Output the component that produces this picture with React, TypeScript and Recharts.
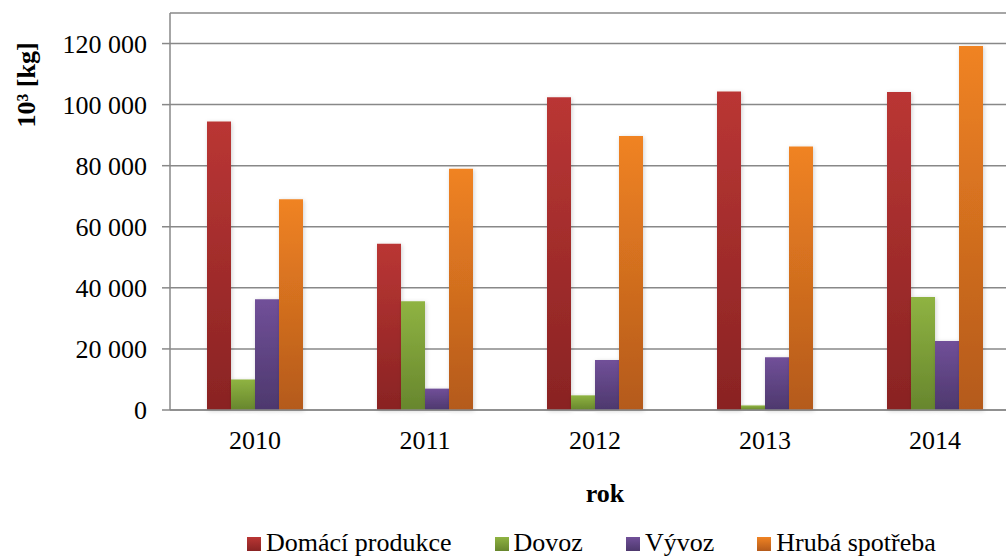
import React from "react";
import {
  BarChart, Bar, XAxis, YAxis, CartesianGrid, Label,
} from "recharts";

const years = ["2010", "2011", "2012", "2013", "2014"];
const domaciProdukce = [94500, 54400, 102400, 104300, 104100];
const dovoz = [10000, 35600, 4800, 1500, 37000];
const vyvoz = [36300, 7000, 16400, 17300, 22600];
const hrubaSpotreba = [69000, 79000, 89700, 86300, 119200];
const yTicks = [0, 20000, 40000, 60000, 80000, 100000, 120000];

const FONT = '"Liberation Serif", "Times New Roman", serif';

const series = [
  { key: "domaci", name: "Domácí produkce", top: "#ba3634", bottom: "#892323" },
  { key: "dovoz", name: "Dovoz", top: "#8fb342", bottom: "#67862d" },
  { key: "vyvoz", name: "Vývoz", top: "#715099", bottom: "#4d386d" },
  { key: "hruba", name: "Hrubá spotřeba", top: "#f08323", bottom: "#b45a1b" },
];

const data = years.map((year, i) => ({
  year,
  domaci: domaciProdukce[i],
  dovoz: dovoz[i],
  vyvoz: vyvoz[i],
  hruba: hrubaSpotreba[i],
}));

// thousands separated by a space: 120000 -> "120 000"
const fmt = (v: number) =>
  v >= 1000 ? `${Math.floor(v / 1000)} ${String(v % 1000).padStart(3, "0")}` : String(v);

function LegendBox() {
  return (
    <div
      style={{
        position: "absolute",
        left: 247,
        top: 528,
        display: "flex",
        alignItems: "flex-start",
        fontFamily: FONT,
        fontSize: 26,
        lineHeight: "30px",
        color: "#000",
        whiteSpace: "nowrap",
      }}
    >
      {series.map((s) => (
        <div key={s.key} style={{ display: "flex", alignItems: "flex-start", marginRight: 43 }}>
          <span
            style={{
              display: "inline-block",
              width: 14,
              height: 14,
              marginTop: 9,
              marginRight: 5,
              background: `linear-gradient(${s.top}, ${s.bottom})`,
            }}
          />
          <span>{s.name}</span>
        </div>
      ))}
    </div>
  );
}

export default function App() {
  return (
    <div
      style={{
        position: "absolute",
        left: 0,
        top: 0,
        width: 1006,
        height: 557,
        overflow: "hidden",
        background: "#fff",
      }}
    >
      <BarChart
        width={1020}
        height={557}
        data={data}
        margin={{ top: 13, right: 0, left: 0, bottom: 117 }}
        barGap={0}
        barSize={24}
        style={{ fontFamily: FONT }}
      >
        <defs>
          {series.map((s) => (
            <linearGradient key={s.key} id={`g-${s.key}`} x1="0" y1="0" x2="0" y2="1">
              <stop offset="0%" stopColor={s.top} />
              <stop offset="100%" stopColor={s.bottom} />
            </linearGradient>
          ))}
          <filter id="barShadow" x="-30%" y="-10%" width="160%" height="120%">
            <feDropShadow dx="1" dy="1" stdDeviation="2" floodColor="#000" floodOpacity="0.18" />
          </filter>
        </defs>
        <CartesianGrid vertical={false} stroke="#888" strokeWidth={1.5} />
        <XAxis
          dataKey="year"
          height={30}
          axisLine={{ stroke: "#888", strokeWidth: 1.5 }}
          tickLine={false}
          tickSize={8}
          tickMargin={13}
          tick={{ fontSize: 26, fill: "#000", fontFamily: FONT }}
        >
          <Label
            content={() => (
              <text x={605} y={502} textAnchor="middle" fontFamily={FONT} fontSize={26} fontWeight="bold" fill="#000">
                rok
              </text>
            )}
          />
        </XAxis>
        <YAxis
          width={170}
          domain={[0, 130000]}
          ticks={yTicks}
          tickFormatter={fmt}
          axisLine={{ stroke: "#888", strokeWidth: 1.5 }}
          tickLine={{ stroke: "#888", strokeWidth: 1.5 }}
          tickSize={8}
          tickMargin={15}
          tick={{ fontSize: 26, fill: "#000", fontFamily: FONT }}
        >
          <Label
            content={() => (
              <text
                x={0}
                y={0}
                transform="translate(35 85) rotate(-90)"
                textAnchor="middle"
                fontFamily={FONT}
                fontSize={26}
                fontWeight="bold"
                fill="#000"
              >
                10³ [kg]
              </text>
            )}
          />
        </YAxis>
        {series.map((s) => (
          <Bar
            key={s.key}
            dataKey={s.key}
            name={s.name}
            fill={`url(#g-${s.key})`}
            filter="url(#barShadow)"
            isAnimationActive={false}
          />
        ))}
      </BarChart>
      <LegendBox />
    </div>
  );
}
